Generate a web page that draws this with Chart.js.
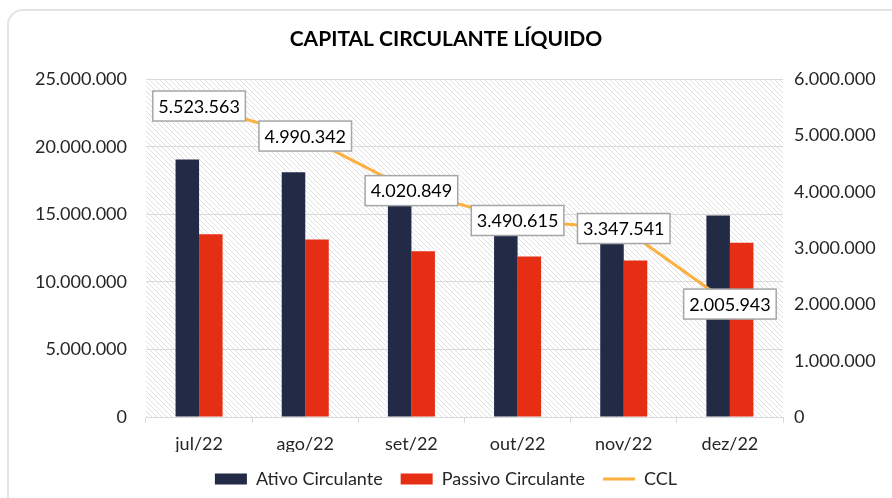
<!DOCTYPE html>
<html>
<head>
<meta charset="utf-8">
<script src="https://cdn.jsdelivr.net/npm/chart.js@4"></script>
<style>
  html, body { margin: 0; padding: 0; background: #fff; overflow: hidden; }
  #frame { position: absolute; left: 7px; top: 9px; width: 1000px; height: 600px;
           border: 2px solid #e4e4e4; border-radius: 16px; }
  #chart { position: absolute; left: 0; top: 0; }
</style>
</head>
<body>
<div id="frame"></div>
<canvas id="chart" width="892" height="498"></canvas>
<script>
var meses = ['jul/22', 'ago/22', 'set/22', 'out/22', 'nov/22', 'dez/22'];
var ativoCirculante = [19050000, 18120000, 16280000, 15370000, 14930000, 14910000];
var passivoCirculante = [13530000, 13130000, 12260000, 11880000, 11580000, 12900000];
var ccl = [5523563, 4990342, 4020849, 3490615, 3347541, 2005943];
var ticksEsquerda = [0, 5000000, 10000000, 15000000, 20000000, 25000000];
var ticksDireita = [0, 1000000, 2000000, 3000000, 4000000, 5000000, 6000000];

var fonte = 'Lato';

function formata(v) {
    return String(Math.round(v)).replace(/\B(?=(\d{3})+(?!\d))/g, '.');
}

// fundo hachurado da area do grafico
function criaHachura(ctx) {
    var c = document.createElement('canvas');
    c.width = 5;
    c.height = 5;
    var p = c.getContext('2d');
    p.fillStyle = '#ffffff';
    p.fillRect(0, 0, 5, 5);
    p.strokeStyle = '#e0e0e0';
    p.lineWidth = 1;
    p.beginPath();
    p.moveTo(-1, -1); p.lineTo(6, 6);
    p.moveTo(-1, 4); p.lineTo(1, 6);
    p.moveTo(4, -1); p.lineTo(6, 1);
    p.stroke();
    return ctx.createPattern(c, 'repeat');
}

var hachuraPlugin = {
    id: 'hachura',
    beforeDraw: function (chart) {
        var a = chart.chartArea;
        var ctx = chart.ctx;
        ctx.save();
        ctx.fillStyle = criaHachura(ctx);
        ctx.fillRect(a.left, a.top, a.right - a.left, a.bottom - a.top);
        ctx.restore();
    }
};

// rotulos do CCL em caixas brancas
var rotulosPlugin = {
    id: 'rotulos',
    afterDatasetsDraw: function (chart) {
        var ctx = chart.ctx;
        var meta = chart.getDatasetMeta(2);
        ctx.save();
        ctx.font = '18px ' + fonte;
        ctx.textAlign = 'center';
        ctx.textBaseline = 'middle';
        meta.data.forEach(function (pt, i) {
            var txt = formata(ccl[i]);
            var w = ctx.measureText(txt).width + 11;
            var h = 30;
            var x = pt.x;
            var y = pt.y;
            ctx.fillStyle = '#ffffff';
            ctx.fillRect(x - w / 2, y - h / 2, w, h);
            ctx.strokeStyle = '#a6a6a6';
            ctx.lineWidth = 1.5;
            ctx.strokeRect(x - w / 2, y - h / 2, w, h);
            ctx.fillStyle = '#000000';
            ctx.fillText(txt, x, y + 1);
        });
        ctx.restore();
    }
};

var ctx = document.getElementById('chart').getContext('2d');
var config = {
    type: 'bar',
    data: {
        labels: meses,
        datasets: [{
            label: 'Ativo Circulante',
            data: ativoCirculante,
            backgroundColor: '#232a45',
            yAxisID: 'y',
            order: 1
        }, {
            label: 'Passivo Circulante',
            data: passivoCirculante,
            backgroundColor: '#e62e15',
            yAxisID: 'y',
            order: 1
        }, {
            type: 'line',
            label: 'CCL',
            data: ccl,
            borderColor: '#fbb040',
            backgroundColor: '#fbb040',
            borderWidth: 3,
            pointRadius: 0,
            tension: 0,
            yAxisID: 'y1',
            order: 0
        }]
    },
    options: {
        responsive: false,
        animation: false,
        categoryPercentage: 0.443,
        barPercentage: 1,
        layout: { padding: { left: 0, right: 0, top: 0, bottom: 0 } },
        plugins: {
            title: {
                display: true,
                text: 'CAPITAL CIRCULANTE LÍQUIDO',
                color: '#000000',
                font: { family: fonte, size: 21, weight: 'bold' },
                padding: { top: 27, bottom: 27 }
            },
            legend: {
                position: 'bottom',
                labels: {
                    color: '#262626',
                    font: { family: fonte, size: 18 },
                    usePointStyle: true,
                    pointStyleWidth: 32,
                    boxHeight: 11,
                    padding: 18,
                    sort: function (a, b) { return a.datasetIndex - b.datasetIndex; },
                    generateLabels: function (chart) {
                        var itens = Chart.defaults.plugins.legend.labels.generateLabels(chart);
                        itens.forEach(function (it) {
                            if (it.datasetIndex === 2) {
                                it.pointStyle = 'line';
                                it.lineWidth = 3;
                                it.strokeStyle = '#fbb040';
                            } else {
                                it.pointStyle = 'rect';
                                it.lineWidth = 0;
                            }
                        });
                        return itens;
                    }
                }
            },
            tooltip: { enabled: false }
        },
        scales: {
            x: {
                afterFit: function (s) { s.height = 35; },
                grid: { display: true, drawOnChartArea: false, drawTicks: true, tickLength: 6, color: '#d9d9d9' },
                border: { display: true, color: '#d9d9d9' },
                ticks: { color: '#262626', font: { family: fonte, size: 18 }, padding: 10 }
            },
            y: {
                position: 'left',
                min: 0,
                max: 25000000,
                afterBuildTicks: function (s) { s.ticks = ticksEsquerda.map(function (v) { return { value: v }; }); },
                afterFit: function (s) { s.width = 146; },
                grid: { color: '#d9d9d9', drawTicks: false },
                border: { display: false },
                ticks: { color: '#262626', font: { family: fonte, size: 18 }, padding: 19, callback: formata }
            },
            y1: {
                position: 'right',
                min: 0,
                max: 6000000,
                afterBuildTicks: function (s) { s.ticks = ticksDireita.map(function (v) { return { value: v }; }); },
                afterFit: function (s) { s.width = 109; },
                grid: { drawOnChartArea: false, drawTicks: false },
                border: { display: false },
                ticks: { color: '#262626', font: { family: fonte, size: 18 }, padding: 11, callback: formata }
            }
        }
    },
    plugins: [hachuraPlugin, rotulosPlugin]
};
var grafico = new Chart(ctx, config);
</script>
</body>
</html>
